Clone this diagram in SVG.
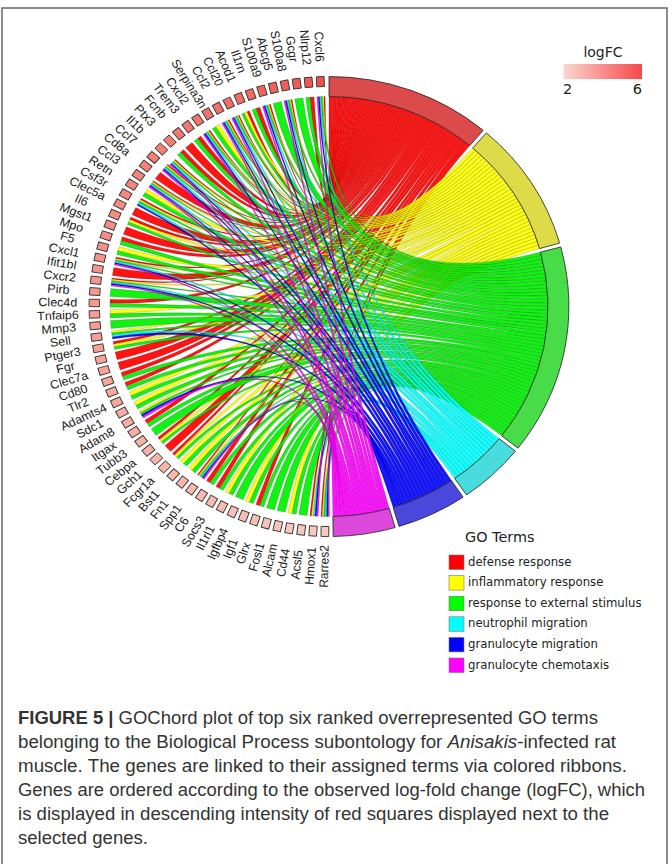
<svg xmlns="http://www.w3.org/2000/svg" width="672" height="864" viewBox="0 0 672 864">
<defs>
<style>
.rb path{stroke:#000;stroke-width:.3;stroke-opacity:.5;fill-opacity:.92}
.R path{fill:#ff0000}.Y path{fill:#ffff00}.G path{fill:#00f000}.C path{fill:#00ffff}.B path{fill:#0000ff}.P path{fill:#ff00ff}
.term{stroke:#222;stroke-width:.8}
.sq{stroke:#333;stroke-width:.9}
.gl{font-family:"Liberation Sans",Arial,sans-serif;font-size:12px;fill:#1a1a1a;text-anchor:middle;dominant-baseline:central}
.lg{font-family:"DejaVu Sans",Verdana,sans-serif;fill:#222}
.sw{stroke:#777;stroke-width:.6}
.cap{font-family:"Liberation Sans",Arial,sans-serif;font-size:17.5px;fill:#333}
</style>
<linearGradient id="lfc" x1="0" x2="1" y1="0" y2="0"><stop offset="0" stop-color="#fbd6d0"/><stop offset="1" stop-color="#f54848"/></linearGradient>
</defs>
<rect x="0" y="0" width="672" height="864" fill="#fff"/>
<rect x="2" y="8" width="665" height="870" fill="none" stroke="#666" stroke-width="1.5"/>
<g transform="translate(329,306.5) scale(1.043,1)">
<g id="connectors" class="rb">
<g class="R">
<path d="M-5.0,-210.0L-3.7,-210.0Q0,0 0,-210L3.7,-210.0Q0,0 -5.0,-210.0Z"/>
<path d="M-18.3,-209.2L-14.3,-209.6Q0,0 3.7,-210L7.3,-209.9Q0,0 -18.3,-209.2Z"/>
<path d="M-36.7,-206.8L-35.4,-207.0Q0,0 7.3,-209.9L11.0,-209.7Q0,0 -36.7,-206.8Z"/>
<path d="M-57.4,-202.0L-56.1,-202.4Q0,0 11.0,-209.7L14.6,-209.5Q0,0 -57.4,-202.0Z"/>
<path d="M-70.1,-198.0L-66.3,-199.3Q0,0 14.6,-209.5L18.3,-209.2Q0,0 -70.1,-198.0Z"/>
<path d="M-78.8,-194.7L-76.3,-195.7Q0,0 18.3,-209.2L22.0,-208.9Q0,0 -78.8,-194.7Z"/>
<path d="M-87.3,-191.0L-86.1,-191.6Q0,0 22.0,-208.9L25.6,-208.4Q0,0 -87.3,-191.0Z"/>
<path d="M-96.9,-186.3L-95.7,-187.0Q0,0 25.6,-208.4L29.2,-208.0Q0,0 -96.9,-186.3Z"/>
<path d="M-115.2,-175.6L-114.1,-176.4Q0,0 29.2,-208.0L32.9,-207.4Q0,0 -115.2,-175.6Z"/>
<path d="M-126.1,-167.9L-122.9,-170.4Q0,0 32.9,-207.4L36.5,-206.8Q0,0 -126.1,-167.9Z"/>
<path d="M-137.5,-158.8L-131.3,-163.9Q0,0 36.5,-206.8L40.1,-206.1Q0,0 -137.5,-158.8Z"/>
<path d="M-142.4,-154.3L-139.5,-157.1Q0,0 40.1,-206.1L43.7,-205.4Q0,0 -142.4,-154.3Z"/>
<path d="M-148.2,-146.2L-147.3,-147.2Q0,0 43.7,-205.4L47.2,-204.6Q0,0 -148.2,-146.2Z"/>
<path d="M-155.5,-141.2L-154.6,-142.2Q0,0 47.2,-204.6L50.8,-203.8Q0,0 -155.5,-141.2Z"/>
<path d="M-166.6,-127.9L-161.6,-134.2Q0,0 50.8,-203.8L54.4,-202.8Q0,0 -166.6,-127.9Z"/>
<path d="M-169.0,-124.7L-168.2,-125.8Q0,0 54.4,-202.8L57.9,-201.9Q0,0 -169.0,-124.7Z"/>
<path d="M-180.8,-106.8L-180.0,-108.2Q0,0 57.9,-201.9L61.4,-200.8Q0,0 -180.8,-106.8Z"/>
<path d="M-188.9,-91.8L-185.3,-98.9Q0,0 61.4,-200.8L64.9,-199.7Q0,0 -188.9,-91.8Z"/>
<path d="M-191.1,-87.0L-190.0,-89.4Q0,0 64.9,-199.7L68.4,-198.6Q0,0 -191.1,-87.0Z"/>
<path d="M-197.2,-72.2L-194.3,-79.7Q0,0 68.4,-198.6L71.8,-197.3Q0,0 -197.2,-72.2Z"/>
<path d="M-199.4,-65.9L-198.1,-69.8Q0,0 71.8,-197.3L75.3,-196.1Q0,0 -199.4,-65.9Z"/>
<path d="M-204.4,-48.1L-204.2,-49.4Q0,0 75.3,-196.1L78.7,-194.7Q0,0 -204.4,-48.1Z"/>
<path d="M-207.7,-31.1L-206.4,-39.0Q0,0 78.7,-194.7L82.1,-193.3Q0,0 -207.7,-31.1Z"/>
<path d="M-208.3,-27.2L-208.1,-28.5Q0,0 82.1,-193.3L85.4,-191.8Q0,0 -208.3,-27.2Z"/>
<path d="M-210.0,-3.3L-209.9,-7.3Q0,0 85.4,-191.8L88.8,-190.3Q0,0 -210.0,-3.3Z"/>
<path d="M-206.6,37.7L-207.1,35.0Q0,0 88.8,-190.3L92.1,-188.7Q0,0 -206.6,37.7Z"/>
<path d="M-203.2,53.3L-205.1,45.5Q0,0 92.1,-188.7L95.3,-187.1Q0,0 -203.2,53.3Z"/>
<path d="M-200.2,63.5L-202.5,55.8Q0,0 95.3,-187.1L98.6,-185.4Q0,0 -200.2,63.5Z"/>
<path d="M-198.1,69.8L-199.4,66.0Q0,0 98.6,-185.4L101.8,-183.7Q0,0 -198.1,69.8Z"/>
<path d="M-194.3,79.7L-195.8,76.0Q0,0 101.8,-183.7L105.0,-181.9Q0,0 -194.3,79.7Z"/>
<path d="M-174.3,117.1L-176.6,113.8Q0,0 105.0,-181.9L108.2,-180.0Q0,0 -174.3,117.1Z"/>
<path d="M-162.4,133.1L-164.2,131.0Q0,0 108.2,-180.0L111.3,-178.1Q0,0 -162.4,133.1Z"/>
<path d="M-151.8,145.1L-157.3,139.2Q0,0 111.3,-178.1L114.4,-176.1Q0,0 -151.8,145.1Z"/>
<path d="M-148.2,148.8L-150.1,147.0Q0,0 114.4,-176.1L117.4,-174.1Q0,0 -148.2,148.8Z"/>
<path d="M-125.0,168.8L-126.1,168.0Q0,0 117.4,-174.1L120.5,-172.0Q0,0 -125.0,168.8Z"/>
<path d="M-114.1,176.3L-117.5,174.1Q0,0 120.5,-172.0L123.4,-169.9Q0,0 -114.1,176.3Z"/>
<path d="M-105.0,181.9L-108.5,179.9Q0,0 123.4,-169.9L126.4,-167.7Q0,0 -105.0,181.9Z"/>
<path d="M-66.3,199.3L-70.1,198.0Q0,0 126.4,-167.7L129.3,-165.5Q0,0 -66.3,199.3Z"/>
<path d="M-16.7,209.4L-18.3,209.2Q0,0 129.3,-165.5L132.2,-163.2Q0,0 -16.7,209.4Z"/>
<path d="M-6.4,209.9L-7.7,209.9Q0,0 132.2,-163.2L135.0,-160.9Q0,0 -6.4,209.9Z"/>
</g>
<g class="Y">
<path d="M-6.4,-209.9L-5.0,-210.0Q0,0 137.8,-158.5L140.5,-156.1Q0,0 -6.4,-209.9Z"/>
<path d="M-38.0,-206.5L-36.7,-206.8Q0,0 140.5,-156.1L143.2,-153.6Q0,0 -38.0,-206.5Z"/>
<path d="M-58.7,-201.6L-57.4,-202.0Q0,0 143.2,-153.6L145.9,-151.1Q0,0 -58.7,-201.6Z"/>
<path d="M-81.3,-193.6L-78.8,-194.7Q0,0 145.9,-151.1L148.5,-148.5Q0,0 -81.3,-193.6Z"/>
<path d="M-88.5,-190.4L-87.3,-191.0Q0,0 148.5,-148.5L151.1,-145.9Q0,0 -88.5,-190.4Z"/>
<path d="M-98.1,-185.7L-96.9,-186.3Q0,0 151.1,-145.9L153.6,-143.2Q0,0 -98.1,-185.7Z"/>
<path d="M-108.5,-179.8L-105.0,-181.9Q0,0 153.6,-143.2L156.1,-140.5Q0,0 -108.5,-179.8Z"/>
<path d="M-116.3,-174.9L-115.2,-175.6Q0,0 156.1,-140.5L158.5,-137.8Q0,0 -116.3,-174.9Z"/>
<path d="M-149.1,-145.2L-148.2,-146.2Q0,0 158.5,-137.8L160.9,-135.0Q0,0 -149.1,-145.2Z"/>
<path d="M-156.4,-140.2L-155.5,-141.2Q0,0 160.9,-135.0L163.2,-132.2Q0,0 -156.4,-140.2Z"/>
<path d="M-169.8,-123.6L-169.0,-124.7Q0,0 163.2,-132.2L165.5,-129.3Q0,0 -169.8,-123.6Z"/>
<path d="M-176.5,-113.8L-174.3,-117.2Q0,0 165.5,-129.3L167.7,-126.4Q0,0 -176.5,-113.8Z"/>
<path d="M-181.7,-105.4L-180.8,-106.8Q0,0 167.7,-126.4L169.9,-123.4Q0,0 -181.7,-105.4Z"/>
<path d="M-192.2,-84.5L-191.1,-87.0Q0,0 169.9,-123.4L172.0,-120.5Q0,0 -192.2,-84.5Z"/>
<path d="M-202.5,-55.8L-201.4,-59.7Q0,0 172.0,-120.5L174.1,-117.4Q0,0 -202.5,-55.8Z"/>
<path d="M-204.7,-46.8L-204.4,-48.1Q0,0 174.1,-117.4L176.1,-114.4Q0,0 -204.7,-46.8Z"/>
<path d="M-208.4,-25.8L-208.3,-27.2Q0,0 176.1,-114.4L178.1,-111.3Q0,0 -208.4,-25.8Z"/>
<path d="M-209.9,7.3L-210.0,3.3Q0,0 178.1,-111.3L180.0,-108.2Q0,0 -209.9,7.3Z"/>
<path d="M-208.3,26.5L-208.6,24.5Q0,0 180.0,-108.2L181.9,-105.0Q0,0 -208.3,26.5Z"/>
<path d="M-206.1,40.3L-206.6,37.7Q0,0 181.9,-105.0L183.7,-101.8Q0,0 -206.1,40.3Z"/>
<path d="M-190.0,89.4L-191.7,85.8Q0,0 183.7,-101.8L185.4,-98.6Q0,0 -190.0,89.4Z"/>
<path d="M-185.2,98.9L-187.1,95.4Q0,0 185.4,-98.6L187.1,-95.3Q0,0 -185.2,98.9Z"/>
<path d="M-181.1,106.4L-182.1,104.7Q0,0 187.1,-95.3L188.7,-92.1Q0,0 -181.1,106.4Z"/>
<path d="M-160.7,135.2L-162.4,133.1Q0,0 188.7,-92.1L190.3,-88.8Q0,0 -160.7,135.2Z"/>
<path d="M-146.2,150.7L-148.2,148.8Q0,0 190.3,-88.8L191.8,-85.4Q0,0 -146.2,150.7Z"/>
<path d="M-139.4,157.0L-142.4,154.4Q0,0 191.8,-85.4L193.3,-82.1Q0,0 -139.4,157.0Z"/>
<path d="M-131.3,163.9L-134.5,161.4Q0,0 193.3,-82.1L194.7,-78.7Q0,0 -131.3,163.9Z"/>
<path d="M-123.9,169.5L-125.0,168.8Q0,0 194.7,-78.7L196.1,-75.3Q0,0 -123.9,169.5Z"/>
<path d="M-95.7,186.9L-99.3,185.1Q0,0 196.1,-75.3L197.3,-71.8Q0,0 -95.7,186.9Z"/>
<path d="M-76.3,195.7L-80.0,194.2Q0,0 197.3,-71.8L198.6,-68.4Q0,0 -76.3,195.7Z"/>
<path d="M-35.4,207.0L-39.4,206.3Q0,0 198.6,-68.4L199.7,-64.9Q0,0 -35.4,207.0Z"/>
<path d="M-15.1,209.5L-16.7,209.4Q0,0 199.7,-64.9L200.8,-61.4Q0,0 -15.1,209.5Z"/>
<path d="M-5.0,210.0L-6.4,209.9Q0,0 200.8,-61.4L201.9,-57.9Q0,0 -5.0,210.0Z"/>
</g>
<g class="G">
<path d="M-7.7,-209.9L-6.4,-209.9Q0,0 202.8,-54.4L203.8,-50.8Q0,0 -7.7,-209.9Z"/>
<path d="M-22.3,-208.9L-18.3,-209.2Q0,0 203.8,-50.8L204.6,-47.2Q0,0 -22.3,-208.9Z"/>
<path d="M-32.9,-207.5L-24.9,-208.6Q0,0 204.6,-47.2L205.4,-43.7Q0,0 -32.9,-207.5Z"/>
<path d="M-39.4,-206.3L-38.0,-206.5Q0,0 205.4,-43.7L206.1,-40.1Q0,0 -39.4,-206.3Z"/>
<path d="M-53.7,-203.1L-45.8,-205.0Q0,0 206.1,-40.1L206.8,-36.5Q0,0 -53.7,-203.1Z"/>
<path d="M-60.0,-201.2L-58.7,-201.6Q0,0 206.8,-36.5L207.4,-32.9Q0,0 -60.0,-201.2Z"/>
<path d="M-73.9,-196.6L-70.1,-198.0Q0,0 207.4,-32.9L208.0,-29.2Q0,0 -73.9,-196.6Z"/>
<path d="M-83.8,-192.6L-81.3,-193.6Q0,0 208.0,-29.2L208.4,-25.6Q0,0 -83.8,-192.6Z"/>
<path d="M-89.7,-189.9L-88.5,-190.4Q0,0 208.4,-25.6L208.9,-22.0Q0,0 -89.7,-189.9Z"/>
<path d="M-99.2,-185.1L-98.1,-185.7Q0,0 208.9,-22.0L209.2,-18.3Q0,0 -99.2,-185.1Z"/>
<path d="M-111.9,-177.7L-108.5,-179.8Q0,0 209.2,-18.3L209.5,-14.6Q0,0 -111.9,-177.7Z"/>
<path d="M-117.4,-174.1L-116.3,-174.9Q0,0 209.5,-14.6L209.7,-11.0Q0,0 -117.4,-174.1Z"/>
<path d="M-129.3,-165.5L-126.1,-167.9Q0,0 209.7,-11.0L209.9,-7.3Q0,0 -129.3,-165.5Z"/>
<path d="M-145.4,-151.6L-142.4,-154.3Q0,0 209.9,-7.3L210.0,-3.7Q0,0 -145.4,-151.6Z"/>
<path d="M-150.0,-144.3L-149.1,-145.2Q0,0 210.0,-3.7L210,0Q0,0 -150.0,-144.3Z"/>
<path d="M-157.3,-139.2L-156.4,-140.2Q0,0 210,0L210.0,3.7Q0,0 -157.3,-139.2Z"/>
<path d="M-170.5,-122.5L-169.8,-123.6Q0,0 210.0,3.7L209.9,7.3Q0,0 -170.5,-122.5Z"/>
<path d="M-178.7,-110.4L-176.5,-113.8Q0,0 209.9,7.3L209.7,11.0Q0,0 -178.7,-110.4Z"/>
<path d="M-182.5,-104.0L-181.7,-105.4Q0,0 209.7,11.0L209.5,14.6Q0,0 -182.5,-104.0Z"/>
<path d="M-193.3,-82.1L-192.2,-84.5Q0,0 209.5,14.6L209.2,18.3Q0,0 -193.3,-82.1Z"/>
<path d="M-200.6,-62.1L-199.4,-65.9Q0,0 209.2,18.3L208.9,22.0Q0,0 -200.6,-62.1Z"/>
<path d="M-203.5,-51.9L-202.5,-55.8Q0,0 208.9,22.0L208.4,25.6Q0,0 -203.5,-51.9Z"/>
<path d="M-205.0,-45.5L-204.7,-46.8Q0,0 208.4,25.6L208.0,29.2Q0,0 -205.0,-45.5Z"/>
<path d="M-208.6,-24.5L-208.4,-25.8Q0,0 208.0,29.2L207.4,32.9Q0,0 -208.6,-24.5Z"/>
<path d="M-209.8,-9.9L-209.3,-17.9Q0,0 207.4,32.9L206.8,36.5Q0,0 -209.8,-9.9Z"/>
<path d="M-210.0,0.7L-210.0,-3.3Q0,0 206.8,36.5L206.1,40.1Q0,0 -210.0,0.7Z"/>
<path d="M-209.7,11.4L-209.9,7.3Q0,0 206.1,40.1L205.4,43.7Q0,0 -209.7,11.4Z"/>
<path d="M-208.9,22.0L-209.6,13.9Q0,0 205.4,43.7L204.6,47.2Q0,0 -208.9,22.0Z"/>
<path d="M-208.1,28.5L-208.3,26.5Q0,0 204.6,47.2L203.8,50.8Q0,0 -208.1,28.5Z"/>
<path d="M-205.6,43.0L-206.1,40.3Q0,0 203.8,50.8L202.8,54.4Q0,0 -205.6,43.0Z"/>
<path d="M-196.7,73.6L-198.1,69.8Q0,0 202.8,54.4L201.9,57.9Q0,0 -196.7,73.6Z"/>
<path d="M-192.8,83.4L-194.3,79.7Q0,0 201.9,57.9L200.8,61.4Q0,0 -192.8,83.4Z"/>
<path d="M-188.3,93.1L-190.0,89.4Q0,0 200.8,61.4L199.7,64.9Q0,0 -188.3,93.1Z"/>
<path d="M-183.3,102.5L-185.2,98.9Q0,0 199.7,64.9L198.6,68.4Q0,0 -183.3,102.5Z"/>
<path d="M-180.0,108.2L-181.1,106.4Q0,0 198.6,68.4L197.3,71.8Q0,0 -180.0,108.2Z"/>
<path d="M-172.1,120.5L-174.3,117.1Q0,0 197.3,71.8L196.1,75.3Q0,0 -172.1,120.5Z"/>
<path d="M-165.7,129.0L-170.6,122.6Q0,0 196.1,75.3L194.7,78.7Q0,0 -165.7,129.0Z"/>
<path d="M-159.0,137.2L-160.7,135.2Q0,0 194.7,78.7L193.3,82.1Q0,0 -159.0,137.2Z"/>
<path d="M-144.3,152.6L-146.2,150.7Q0,0 193.3,82.1L191.8,85.4Q0,0 -144.3,152.6Z"/>
<path d="M-136.4,159.7L-139.4,157.0Q0,0 191.8,85.4L190.3,88.8Q0,0 -136.4,159.7Z"/>
<path d="M-128.2,166.4L-131.3,163.9Q0,0 190.3,88.8L188.7,92.1Q0,0 -128.2,166.4Z"/>
<path d="M-122.8,170.3L-123.9,169.5Q0,0 188.7,92.1L187.1,95.3Q0,0 -122.8,170.3Z"/>
<path d="M-110.7,178.5L-114.1,176.3Q0,0 187.1,95.3L185.4,98.6Q0,0 -110.7,178.5Z"/>
<path d="M-101.5,183.9L-105.0,181.9Q0,0 185.4,98.6L183.7,101.8Q0,0 -101.5,183.9Z"/>
<path d="M-92.1,188.8L-95.7,186.9Q0,0 183.7,101.8L181.9,105.0Q0,0 -92.1,188.8Z"/>
<path d="M-82.4,193.2L-89.8,189.9Q0,0 181.9,105.0L180.0,108.2Q0,0 -82.4,193.2Z"/>
<path d="M-72.5,197.1L-76.3,195.7Q0,0 180.0,108.2L178.1,111.3Q0,0 -72.5,197.1Z"/>
<path d="M-62.5,200.5L-66.3,199.3Q0,0 178.1,111.3L176.1,114.4Q0,0 -62.5,200.5Z"/>
<path d="M-52.2,203.4L-60.0,201.3Q0,0 176.1,114.4L174.1,117.4Q0,0 -52.2,203.4Z"/>
<path d="M-41.9,205.8L-49.8,204.1Q0,0 174.1,117.4L172.0,120.5Q0,0 -41.9,205.8Z"/>
<path d="M-31.4,207.7L-35.4,207.0Q0,0 172.0,120.5L169.9,123.4Q0,0 -31.4,207.7Z"/>
<path d="M-20.9,209.0L-28.9,208.0Q0,0 169.9,123.4L167.7,126.4Q0,0 -20.9,209.0Z"/>
<path d="M-3.7,210.0L-5.0,210.0Q0,0 167.7,126.4L165.5,129.3Q0,0 -3.7,210.0Z"/>
</g>
<g class="C">
<path d="M-9.0,-209.8L-7.7,-209.9Q0,0 163.2,132.2L160.9,135.0Q0,0 -9.0,-209.8Z"/>
<path d="M-40.7,-206.0L-39.4,-206.3Q0,0 160.9,135.0L158.5,137.8Q0,0 -40.7,-206.0Z"/>
<path d="M-61.3,-200.9L-60.0,-201.2Q0,0 158.5,137.8L156.1,140.5Q0,0 -61.3,-200.9Z"/>
<path d="M-91.0,-189.3L-89.7,-189.9Q0,0 156.1,140.5L153.6,143.2Q0,0 -91.0,-189.3Z"/>
<path d="M-100.4,-184.4L-99.2,-185.1Q0,0 153.6,143.2L151.1,145.9Q0,0 -100.4,-184.4Z"/>
<path d="M-118.5,-173.4L-117.4,-174.1Q0,0 151.1,145.9L148.5,148.5Q0,0 -118.5,-173.4Z"/>
<path d="M-151.0,-143.3L-150.0,-144.3Q0,0 148.5,148.5L145.9,151.1Q0,0 -151.0,-143.3Z"/>
<path d="M-158.2,-138.1L-157.3,-139.2Q0,0 145.9,151.1L143.2,153.6Q0,0 -158.2,-138.1Z"/>
<path d="M-171.3,-121.5L-170.5,-122.5Q0,0 143.2,153.6L140.5,156.1Q0,0 -171.3,-121.5Z"/>
<path d="M-183.3,-102.6L-182.5,-104.0Q0,0 140.5,156.1L137.8,158.5Q0,0 -183.3,-102.6Z"/>
<path d="M-205.3,-44.1L-205.0,-45.5Q0,0 137.8,158.5L135.0,160.9Q0,0 -205.3,-44.1Z"/>
<path d="M-208.7,-23.2L-208.6,-24.5Q0,0 135.0,160.9L132.2,163.2Q0,0 -208.7,-23.2Z"/>
<path d="M-207.8,30.5L-208.1,28.5Q0,0 132.2,163.2L129.3,165.5Q0,0 -207.8,30.5Z"/>
<path d="M-121.8,171.1L-122.8,170.3Q0,0 129.3,165.5L126.4,167.7Q0,0 -121.8,171.1Z"/>
<path d="M-13.5,209.6L-15.1,209.5Q0,0 126.4,167.7L123.4,169.9Q0,0 -13.5,209.6Z"/>
<path d="M-2.3,210.0L-3.7,210.0Q0,0 123.4,169.9L120.5,172.0Q0,0 -2.3,210.0Z"/>
</g>
<g class="B">
<path d="M-10.4,-209.8L-9.0,-209.8Q0,0 117.4,174.1L114.4,176.1Q0,0 -10.4,-209.8Z"/>
<path d="M-42.0,-205.8L-40.7,-206.0Q0,0 114.4,176.1L111.3,178.1Q0,0 -42.0,-205.8Z"/>
<path d="M-62.6,-200.5L-61.3,-200.9Q0,0 111.3,178.1L108.2,180.0Q0,0 -62.6,-200.5Z"/>
<path d="M-92.2,-188.7L-91.0,-189.3Q0,0 108.2,180.0L105.0,181.9Q0,0 -92.2,-188.7Z"/>
<path d="M-101.6,-183.8L-100.4,-184.4Q0,0 105.0,181.9L101.8,183.7Q0,0 -101.6,-183.8Z"/>
<path d="M-119.7,-172.6L-118.5,-173.4Q0,0 101.8,183.7L98.6,185.4Q0,0 -119.7,-172.6Z"/>
<path d="M-151.9,-142.4L-151.0,-143.3Q0,0 98.6,185.4L95.3,187.1Q0,0 -151.9,-142.4Z"/>
<path d="M-159.1,-137.1L-158.2,-138.1Q0,0 95.3,187.1L92.1,188.7Q0,0 -159.1,-137.1Z"/>
<path d="M-172.1,-120.4L-171.3,-121.5Q0,0 92.1,188.7L88.8,190.3Q0,0 -172.1,-120.4Z"/>
<path d="M-184.1,-101.2L-183.3,-102.6Q0,0 88.8,190.3L85.4,191.8Q0,0 -184.1,-101.2Z"/>
<path d="M-205.6,-42.8L-205.3,-44.1Q0,0 85.4,191.8L82.1,193.3Q0,0 -205.6,-42.8Z"/>
<path d="M-208.9,-21.8L-208.7,-23.2Q0,0 82.1,193.3L78.7,194.7Q0,0 -208.9,-21.8Z"/>
<path d="M-207.5,32.5L-207.8,30.5Q0,0 78.7,194.7L75.3,196.1Q0,0 -207.5,32.5Z"/>
<path d="M-179.0,109.9L-180.0,108.2Q0,0 75.3,196.1L71.8,197.3Q0,0 -179.0,109.9Z"/>
<path d="M-120.7,171.9L-121.8,171.1Q0,0 71.8,197.3L68.4,198.6Q0,0 -120.7,171.9Z"/>
<path d="M-11.9,209.7L-13.5,209.6Q0,0 68.4,198.6L64.9,199.7Q0,0 -11.9,209.7Z"/>
<path d="M-1.0,210.0L-2.3,210.0Q0,0 64.9,199.7L61.4,200.8Q0,0 -1.0,210.0Z"/>
</g>
<g class="P">
<path d="M-11.7,-209.7L-10.4,-209.8Q0,0 57.9,201.9L54.4,202.8Q0,0 -11.7,-209.7Z"/>
<path d="M-43.3,-205.5L-42.0,-205.8Q0,0 54.4,202.8L50.8,203.8Q0,0 -43.3,-205.5Z"/>
<path d="M-63.9,-200.1L-62.6,-200.5Q0,0 50.8,203.8L47.2,204.6Q0,0 -63.9,-200.1Z"/>
<path d="M-93.4,-188.1L-92.2,-188.7Q0,0 47.2,204.6L43.7,205.4Q0,0 -93.4,-188.1Z"/>
<path d="M-102.8,-183.2L-101.6,-183.8Q0,0 43.7,205.4L40.1,206.1Q0,0 -102.8,-183.2Z"/>
<path d="M-120.8,-171.9L-119.7,-172.6Q0,0 40.1,206.1L36.5,206.8Q0,0 -120.8,-171.9Z"/>
<path d="M-152.8,-141.4L-151.9,-142.4Q0,0 36.5,206.8L32.9,207.4Q0,0 -152.8,-141.4Z"/>
<path d="M-160.0,-136.1L-159.1,-137.1Q0,0 32.9,207.4L29.2,208.0Q0,0 -160.0,-136.1Z"/>
<path d="M-172.9,-119.3L-172.1,-120.4Q0,0 29.2,208.0L25.6,208.4Q0,0 -172.9,-119.3Z"/>
<path d="M-205.9,-41.5L-205.6,-42.8Q0,0 25.6,208.4L22.0,208.9Q0,0 -205.9,-41.5Z"/>
<path d="M-209.0,-20.5L-208.9,-21.8Q0,0 22.0,208.9L18.3,209.2Q0,0 -209.0,-20.5Z"/>
<path d="M-177.9,111.6L-179.0,109.9Q0,0 18.3,209.2L14.6,209.5Q0,0 -177.9,111.6Z"/>
<path d="M-119.6,172.7L-120.7,171.9Q0,0 14.6,209.5L11.0,209.7Q0,0 -119.6,172.7Z"/>
<path d="M-10.3,209.8L-11.9,209.7Q0,0 11.0,209.7L7.3,209.9Q0,0 -10.3,209.8Z"/>
<path d="M0.4,210.0L-1.0,210.0Q0,0 7.3,209.9L3.7,210.0Q0,0 0.4,210.0Z"/>
</g>
</g>
<g id="term-defense-response"><path class="term" fill="#dc4b4b" d="M0,-230A230,230 0 0 1 147.8,-176.2L135.0,-160.9A210,210 0 0 0 0,-210Z"/></g>
<g id="term-inflammatory-response"><path class="term" fill="#dedb48" d="M150.9,-173.6A230,230 0 0 1 221.1,-63.4L201.9,-57.9A210,210 0 0 0 137.8,-158.5Z"/></g>
<g id="term-response-to-external-stimulus"><path class="term" fill="#48dc48" d="M222.2,-59.5A230,230 0 0 1 181.2,141.6L165.5,129.3A210,210 0 0 0 202.8,-54.4Z"/></g>
<g id="term-neutrophil-migration"><path class="term" fill="#48dcdc" d="M178.7,144.7A230,230 0 0 1 131.9,188.4L120.5,172.0A210,210 0 0 0 163.2,132.2Z"/></g>
<g id="term-granulocyte-migration"><path class="term" fill="#4848dc" d="M128.6,190.7A230,230 0 0 1 67.2,219.9L61.4,200.8A210,210 0 0 0 117.4,174.1Z"/></g>
<g id="term-granulocyte-chemotaxis"><path class="term" fill="#dc48dc" d="M63.4,221.1A230,230 0 0 1 4.0,230.0L3.7,210.0A210,210 0 0 0 57.9,201.9Z"/></g>
<g id="gene-Cxcl6" transform="rotate(357.9)"><rect class="sq" x="-3.7" y="-230" width="7.4" height="10" fill="#f0504b"/><text class="gl" transform="translate(0,-260) rotate(90)">Cxcl6</text></g>
<g id="gene-Nlrp12" transform="rotate(355)"><rect class="sq" x="-3.7" y="-230" width="7.4" height="10" fill="#f15751"/><text class="gl" transform="translate(0,-260) rotate(90)">Nlrp12</text></g>
<g id="gene-Gcgr" transform="rotate(352.1)"><rect class="sq" x="-3.7" y="-230" width="7.4" height="10" fill="#f15b56"/><text class="gl" transform="translate(0,-260) rotate(90)">Gcgr</text></g>
<g id="gene-S100a8" transform="rotate(349.2)"><rect class="sq" x="-3.7" y="-230" width="7.4" height="10" fill="#f15f59"/><text class="gl" transform="translate(0,-260) rotate(90)">S100a8</text></g>
<g id="gene-Abcg5" transform="rotate(346.3)"><rect class="sq" x="-3.7" y="-230" width="7.4" height="10" fill="#f1625c"/><text class="gl" transform="translate(0,-260) rotate(90)">Abcg5</text></g>
<g id="gene-S100a9" transform="rotate(343.4)"><rect class="sq" x="-3.7" y="-230" width="7.4" height="10" fill="#f2655f"/><text class="gl" transform="translate(0,-260) rotate(90)">S100a9</text></g>
<g id="gene-Il1rn" transform="rotate(340.5)"><rect class="sq" x="-3.7" y="-230" width="7.4" height="10" fill="#f26862"/><text class="gl" transform="translate(0,-260) rotate(90)">Il1rn</text></g>
<g id="gene-Acod1" transform="rotate(337.6)"><rect class="sq" x="-3.7" y="-230" width="7.4" height="10" fill="#f26b64"/><text class="gl" transform="translate(0,-260) rotate(90)">Acod1</text></g>
<g id="gene-Ccl20" transform="rotate(334.7)"><rect class="sq" x="-3.7" y="-230" width="7.4" height="10" fill="#f26d67"/><text class="gl" transform="translate(0,-260) rotate(90)">Ccl20</text></g>
<g id="gene-Ccl2" transform="rotate(331.8)"><rect class="sq" x="-3.7" y="-230" width="7.4" height="10" fill="#f27069"/><text class="gl" transform="translate(0,-260) rotate(90)">Ccl2</text></g>
<g id="gene-Serpina3n" transform="rotate(328.9)"><rect class="sq" x="-3.7" y="-230" width="7.4" height="10" fill="#f3726b"/><text class="gl" transform="translate(0,-260) rotate(90)">Serpina3n</text></g>
<g id="gene-Cxcl2" transform="rotate(326)"><rect class="sq" x="-3.7" y="-230" width="7.4" height="10" fill="#f3756e"/><text class="gl" transform="translate(0,-260) rotate(90)">Cxcl2</text></g>
<g id="gene-Trem3" transform="rotate(323.1)"><rect class="sq" x="-3.7" y="-230" width="7.4" height="10" fill="#f37770"/><text class="gl" transform="translate(0,-260) rotate(90)">Trem3</text></g>
<g id="gene-Fcnb" transform="rotate(320.2)"><rect class="sq" x="-3.7" y="-230" width="7.4" height="10" fill="#f37972"/><text class="gl" transform="translate(0,-260) rotate(90)">Fcnb</text></g>
<g id="gene-Ptx3" transform="rotate(317.3)"><rect class="sq" x="-3.7" y="-230" width="7.4" height="10" fill="#f37c74"/><text class="gl" transform="translate(0,-260) rotate(90)">Ptx3</text></g>
<g id="gene-Il1b" transform="rotate(314.4)"><rect class="sq" x="-3.7" y="-230" width="7.4" height="10" fill="#f37e76"/><text class="gl" transform="translate(0,-260) rotate(90)">Il1b</text></g>
<g id="gene-Ccl7" transform="rotate(311.5)"><rect class="sq" x="-3.7" y="-230" width="7.4" height="10" fill="#f48078"/><text class="gl" transform="translate(0,-260) rotate(90)">Ccl7</text></g>
<g id="gene-Cd8a" transform="rotate(308.6)"><rect class="sq" x="-3.7" y="-230" width="7.4" height="10" fill="#f4827a"/><text class="gl" transform="translate(0,-260) rotate(90)">Cd8a</text></g>
<g id="gene-Ccl3" transform="rotate(305.7)"><rect class="sq" x="-3.7" y="-230" width="7.4" height="10" fill="#f4847c"/><text class="gl" transform="translate(0,-260) rotate(90)">Ccl3</text></g>
<g id="gene-Retn" transform="rotate(302.8)"><rect class="sq" x="-3.7" y="-230" width="7.4" height="10" fill="#f4867e"/><text class="gl" transform="translate(0,-260) rotate(90)">Retn</text></g>
<g id="gene-Csf3r" transform="rotate(299.9)"><rect class="sq" x="-3.7" y="-230" width="7.4" height="10" fill="#f48880"/><text class="gl" transform="translate(0,-260) rotate(90)">Csf3r</text></g>
<g id="gene-Clec5a" transform="rotate(297)"><rect class="sq" x="-3.7" y="-230" width="7.4" height="10" fill="#f48a82"/><text class="gl" transform="translate(0,-260) rotate(90)">Clec5a</text></g>
<g id="gene-Il6" transform="rotate(294.1)"><rect class="sq" x="-3.7" y="-230" width="7.4" height="10" fill="#f48c83"/><text class="gl" transform="translate(0,-260) rotate(90)">Il6</text></g>
<g id="gene-Mgst1" transform="rotate(291.2)"><rect class="sq" x="-3.7" y="-230" width="7.4" height="10" fill="#f58e85"/><text class="gl" transform="translate(0,-260) rotate(90)">Mgst1</text></g>
<g id="gene-Mpo" transform="rotate(288.3)"><rect class="sq" x="-3.7" y="-230" width="7.4" height="10" fill="#f58f87"/><text class="gl" transform="translate(0,-260) rotate(90)">Mpo</text></g>
<g id="gene-F5" transform="rotate(285.4)"><rect class="sq" x="-3.7" y="-230" width="7.4" height="10" fill="#f59189"/><text class="gl" transform="translate(0,-260) rotate(90)">F5</text></g>
<g id="gene-Cxcl1" transform="rotate(282.5)"><rect class="sq" x="-3.7" y="-230" width="7.4" height="10" fill="#f5938a"/><text class="gl" transform="translate(0,-260) rotate(90)">Cxcl1</text></g>
<g id="gene-Ifit1bl" transform="rotate(279.6)"><rect class="sq" x="-3.7" y="-230" width="7.4" height="10" fill="#f5958c"/><text class="gl" transform="translate(0,-260) rotate(90)">Ifit1bl</text></g>
<g id="gene-Cxcr2" transform="rotate(276.7)"><rect class="sq" x="-3.7" y="-230" width="7.4" height="10" fill="#f5978e"/><text class="gl" transform="translate(0,-260) rotate(90)">Cxcr2</text></g>
<g id="gene-Pirb" transform="rotate(273.8)"><rect class="sq" x="-3.7" y="-230" width="7.4" height="10" fill="#f5988f"/><text class="gl" transform="translate(0,-260) rotate(90)">Pirb</text></g>
<g id="gene-Clec4d" transform="rotate(270.9)"><rect class="sq" x="-3.7" y="-230" width="7.4" height="10" fill="#f59a91"/><text class="gl" transform="translate(0,-260) rotate(90)">Clec4d</text></g>
<g id="gene-Tnfaip6" transform="rotate(268)"><rect class="sq" x="-3.7" y="-230" width="7.4" height="10" fill="#f69c93"/><text class="gl" transform="translate(0,-260) rotate(90)">Tnfaip6</text></g>
<g id="gene-Mmp3" transform="rotate(265.1)"><rect class="sq" x="-3.7" y="-230" width="7.4" height="10" fill="#f69e94"/><text class="gl" transform="translate(0,-260) rotate(90)">Mmp3</text></g>
<g id="gene-Sell" transform="rotate(262.2)"><rect class="sq" x="-3.7" y="-230" width="7.4" height="10" fill="#f69f96"/><text class="gl" transform="translate(0,-260) rotate(90)">Sell</text></g>
<g id="gene-Ptger3" transform="rotate(259.3)"><rect class="sq" x="-3.7" y="-230" width="7.4" height="10" fill="#f6a197"/><text class="gl" transform="translate(0,-260) rotate(90)">Ptger3</text></g>
<g id="gene-Fgr" transform="rotate(256.4)"><rect class="sq" x="-3.7" y="-230" width="7.4" height="10" fill="#f6a399"/><text class="gl" transform="translate(0,-260) rotate(90)">Fgr</text></g>
<g id="gene-Clec7a" transform="rotate(253.5)"><rect class="sq" x="-3.7" y="-230" width="7.4" height="10" fill="#f6a49a"/><text class="gl" transform="translate(0,-260) rotate(90)">Clec7a</text></g>
<g id="gene-Cd80" transform="rotate(250.6)"><rect class="sq" x="-3.7" y="-230" width="7.4" height="10" fill="#f6a69c"/><text class="gl" transform="translate(0,-260) rotate(90)">Cd80</text></g>
<g id="gene-Tlr2" transform="rotate(247.7)"><rect class="sq" x="-3.7" y="-230" width="7.4" height="10" fill="#f6a89e"/><text class="gl" transform="translate(0,-260) rotate(90)">Tlr2</text></g>
<g id="gene-Adamts4" transform="rotate(244.8)"><rect class="sq" x="-3.7" y="-230" width="7.4" height="10" fill="#f7a99f"/><text class="gl" transform="translate(0,-260) rotate(90)">Adamts4</text></g>
<g id="gene-Sdc1" transform="rotate(241.9)"><rect class="sq" x="-3.7" y="-230" width="7.4" height="10" fill="#f7aba1"/><text class="gl" transform="translate(0,-260) rotate(90)">Sdc1</text></g>
<g id="gene-Adam8" transform="rotate(239)"><rect class="sq" x="-3.7" y="-230" width="7.4" height="10" fill="#f7aca2"/><text class="gl" transform="translate(0,-260) rotate(90)">Adam8</text></g>
<g id="gene-Itgax" transform="rotate(236.1)"><rect class="sq" x="-3.7" y="-230" width="7.4" height="10" fill="#f7aea4"/><text class="gl" transform="translate(0,-260) rotate(90)">Itgax</text></g>
<g id="gene-Tubb3" transform="rotate(233.2)"><rect class="sq" x="-3.7" y="-230" width="7.4" height="10" fill="#f7b0a5"/><text class="gl" transform="translate(0,-260) rotate(90)">Tubb3</text></g>
<g id="gene-Cebpa" transform="rotate(230.3)"><rect class="sq" x="-3.7" y="-230" width="7.4" height="10" fill="#f7b1a6"/><text class="gl" transform="translate(0,-260) rotate(90)">Cebpa</text></g>
<g id="gene-Gch1" transform="rotate(227.4)"><rect class="sq" x="-3.7" y="-230" width="7.4" height="10" fill="#f7b3a8"/><text class="gl" transform="translate(0,-260) rotate(90)">Gch1</text></g>
<g id="gene-Fcgr1a" transform="rotate(224.5)"><rect class="sq" x="-3.7" y="-230" width="7.4" height="10" fill="#f7b4a9"/><text class="gl" transform="translate(0,-260) rotate(90)">Fcgr1a</text></g>
<g id="gene-Bst1" transform="rotate(221.6)"><rect class="sq" x="-3.7" y="-230" width="7.4" height="10" fill="#f7b6ab"/><text class="gl" transform="translate(0,-260) rotate(90)">Bst1</text></g>
<g id="gene-Fn1" transform="rotate(218.7)"><rect class="sq" x="-3.7" y="-230" width="7.4" height="10" fill="#f8b7ac"/><text class="gl" transform="translate(0,-260) rotate(90)">Fn1</text></g>
<g id="gene-Spp1" transform="rotate(215.8)"><rect class="sq" x="-3.7" y="-230" width="7.4" height="10" fill="#f8b9ae"/><text class="gl" transform="translate(0,-260) rotate(90)">Spp1</text></g>
<g id="gene-C6" transform="rotate(212.9)"><rect class="sq" x="-3.7" y="-230" width="7.4" height="10" fill="#f8baaf"/><text class="gl" transform="translate(0,-260) rotate(90)">C6</text></g>
<g id="gene-Socs3" transform="rotate(210)"><rect class="sq" x="-3.7" y="-230" width="7.4" height="10" fill="#f8bcb0"/><text class="gl" transform="translate(0,-260) rotate(90)">Socs3</text></g>
<g id="gene-Il1rl1" transform="rotate(207.1)"><rect class="sq" x="-3.7" y="-230" width="7.4" height="10" fill="#f8bdb2"/><text class="gl" transform="translate(0,-260) rotate(90)">Il1rl1</text></g>
<g id="gene-Igfbp4" transform="rotate(204.2)"><rect class="sq" x="-3.7" y="-230" width="7.4" height="10" fill="#f8bfb3"/><text class="gl" transform="translate(0,-260) rotate(90)">Igfbp4</text></g>
<g id="gene-Igf1" transform="rotate(201.3)"><rect class="sq" x="-3.7" y="-230" width="7.4" height="10" fill="#f8c0b5"/><text class="gl" transform="translate(0,-260) rotate(90)">Igf1</text></g>
<g id="gene-Glrx" transform="rotate(198.4)"><rect class="sq" x="-3.7" y="-230" width="7.4" height="10" fill="#f8c1b6"/><text class="gl" transform="translate(0,-260) rotate(90)">Glrx</text></g>
<g id="gene-Fosl1" transform="rotate(195.5)"><rect class="sq" x="-3.7" y="-230" width="7.4" height="10" fill="#f8c3b7"/><text class="gl" transform="translate(0,-260) rotate(90)">Fosl1</text></g>
<g id="gene-Alcam" transform="rotate(192.6)"><rect class="sq" x="-3.7" y="-230" width="7.4" height="10" fill="#f9c4b9"/><text class="gl" transform="translate(0,-260) rotate(90)">Alcam</text></g>
<g id="gene-Cd44" transform="rotate(189.7)"><rect class="sq" x="-3.7" y="-230" width="7.4" height="10" fill="#f9c6ba"/><text class="gl" transform="translate(0,-260) rotate(90)">Cd44</text></g>
<g id="gene-Acsl5" transform="rotate(186.8)"><rect class="sq" x="-3.7" y="-230" width="7.4" height="10" fill="#f9c7bb"/><text class="gl" transform="translate(0,-260) rotate(90)">Acsl5</text></g>
<g id="gene-Hmox1" transform="rotate(183.9)"><rect class="sq" x="-3.7" y="-230" width="7.4" height="10" fill="#f9c9bd"/><text class="gl" transform="translate(0,-260) rotate(90)">Hmox1</text></g>
<g id="gene-Rarres2" transform="rotate(181)"><rect class="sq" x="-3.7" y="-230" width="7.4" height="10" fill="#f9cabe"/><text class="gl" transform="translate(0,-260) rotate(90)">Rarres2</text></g>
</g>
<g id="legend-logfc" class="lg">
<text x="603" y="57" font-size="14" text-anchor="middle">logFC</text>
<rect x="563.5" y="64" width="78.5" height="15" fill="url(#lfc)"/>
<text x="563" y="94" font-size="14.5">2</text>
<text x="642" y="94" font-size="14.5" text-anchor="end">6</text>
</g>
<g id="legend-go" class="lg">
<text x="465" y="542" font-size="14.4">GO Terms</text>
<rect class="sw" x="449" y="555" width="15" height="14.5" fill="#ff0000"/>
<text x="468" y="565.5" font-size="11.7">defense response</text>
<rect class="sw" x="449" y="575.6" width="15" height="14.5" fill="#ffff00"/>
<text x="468" y="586.1" font-size="11.7">inflammatory response</text>
<rect class="sw" x="449" y="596.2" width="15" height="14.5" fill="#00ff00"/>
<text x="468" y="606.7" font-size="11.7">response to external stimulus</text>
<rect class="sw" x="449" y="616.8" width="15" height="14.5" fill="#00ffff"/>
<text x="468" y="627.3" font-size="11.7">neutrophil migration</text>
<rect class="sw" x="449" y="637.4" width="15" height="14.5" fill="#0000ff"/>
<text x="468" y="647.9" font-size="11.7">granulocyte migration</text>
<rect class="sw" x="449" y="658" width="15" height="14.5" fill="#ff00ff"/>
<text x="468" y="668.5" font-size="11.7">granulocyte chemotaxis</text>
</g>
<g id="caption" class="cap">
<text x="18" y="724" textLength="580" lengthAdjust="spacingAndGlyphs"><tspan font-weight="bold">FIGURE 5 |</tspan> GOChord plot of top six ranked overrepresented GO terms</text>
<text x="18" y="748" textLength="598" lengthAdjust="spacingAndGlyphs">belonging to the Biological Process subontology for <tspan font-style="italic">Anisakis</tspan>-infected rat</text>
<text x="18" y="772" textLength="609" lengthAdjust="spacingAndGlyphs">muscle. The genes are linked to their assigned terms via colored ribbons.</text>
<text x="18" y="796" textLength="627" lengthAdjust="spacingAndGlyphs">Genes are ordered according to the observed log-fold change (logFC), which</text>
<text x="18" y="820" textLength="591" lengthAdjust="spacingAndGlyphs">is displayed in descending intensity of red squares displayed next to the</text>
<text x="18" y="844" textLength="130" lengthAdjust="spacingAndGlyphs">selected genes.</text>
</g>
</svg>
